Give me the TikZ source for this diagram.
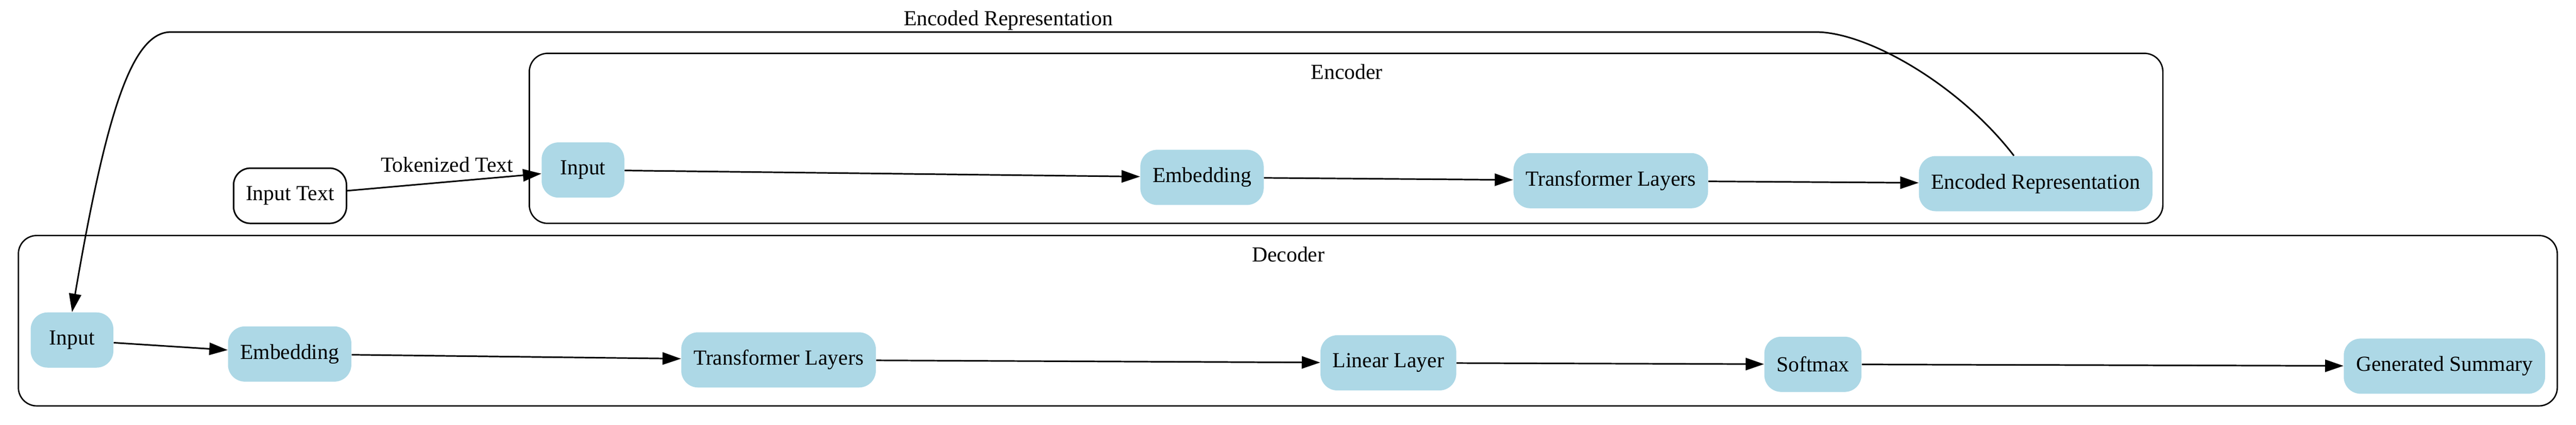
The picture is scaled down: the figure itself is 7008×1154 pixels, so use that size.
\documentclass[tikz,border=0pt]{standalone}
\usepackage{fontspec}
\setmainfont{Liberation Serif}
\usepackage{xcolor}
\usetikzlibrary{positioning,arrows.meta}
\definecolor{lightblue}{HTML}{ADD8E6}
\tikzset{
  block/.style={fill=lightblue, rounded corners=11pt, minimum width=54pt, minimum height=36pt,
    inner xsep=8pt, inner ysep=3pt, font=\fontsize{14pt}{16pt}\selectfont},
  srcbox/.style={block, fill=white, draw, line width=1pt},
  cluster/.style={draw, line width=0.9pt, rounded corners=12pt},
  lbl/.style={font=\fontsize{14pt}{16pt}\selectfont, inner sep=0pt},
  edge/.style={line width=1pt, -{Triangle[length=12pt,width=8pt]}},
}
\begin{document}
\begin{tikzpicture}[x=0.24pt,y=-0.24pt]
           \useasboundingbox (0,0) rectangle (7008,1154);
           \draw[cluster] (1440,145) rectangle (5884,607); %Encoder
           \node[lbl] (enclabel) at (3664,195) {Encoder};
           \draw[cluster] (50,640) rectangle (6957,1103); %Decoder
           \node[lbl] (declabel) at (3505,691) {Decoder};

           \node[srcbox] (intext) at (789,532) {Input Text}; %入力
           \node[block] (einput) at (1586,462) {Input};
           \node[block] (eembed) at (3270,482) {Embedding};
           \node[block] (etrans) at (4382,491) {Transformer Layers};
           \node[block] (eencrep) at (5538,499) {Encoded Representation};

           \node[block] (dinput) at (196,924) {Input};
           \node[block] (dembed) at (788,962) {Embedding};
           \node[block] (dtrans) at (2118,978) {Transformer Layers};
           \node[block] (dlinear) at (3777,986) {Linear Layer};
           \node[block] (dsoftmax) at (4932,990) {Softmax};
           \node[block] (dsummary) at (6650,995) {Generated Summary};

           \draw[edge] (intext) -- (einput);
           \node[lbl] (toklabel) at (1216,447) {Tokenized Text};
           \draw[edge] (einput) -- (eembed);
           \draw[edge] (eembed) -- (etrans);
           \draw[edge] (etrans) -- (eencrep);

           \draw[edge] (dinput) -- (dembed);
           \draw[edge] (dembed) -- (dtrans);
           \draw[edge] (dtrans) -- (dlinear);
           \draw[edge] (dlinear) -- (dsoftmax);
           \draw[edge] (dsoftmax) -- (dsummary);

           \draw[edge] (eencrep.128) .. controls (5330,230) and (5080,87) .. (4940,87)
                -- (465,87) .. controls (360,87) and (290,300) .. (dinput.north); %エンコーダ→デコーダ
           \node[lbl] (replabel) at (2743,56) {Encoded Representation};
\end{tikzpicture}
\end{document}
